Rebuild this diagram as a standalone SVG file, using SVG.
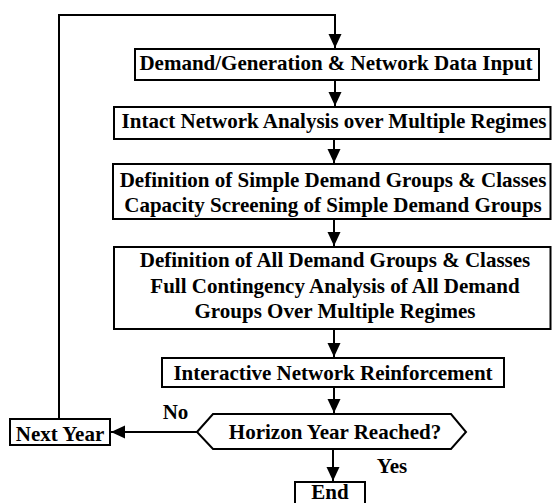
<svg xmlns="http://www.w3.org/2000/svg" width="552" height="503" viewBox="0 0 552 503">
<defs>
<marker id="ah" markerUnits="userSpaceOnUse" markerWidth="14" markerHeight="16" viewBox="0 0 14 16" refX="14" refY="8" orient="auto">
<path d="M0,1.5 L14,8 L0,14.5 Z" fill="#000"/>
</marker>
<style>
.box{fill:#fff;stroke:#000;stroke-width:2}
.t{font-family:"Liberation Serif","Times New Roman",serif;font-weight:bold;font-size:21px;fill:#000;text-anchor:middle}
.c{fill:none;stroke:#000;stroke-width:2}
</style>
</defs>
<rect width="552" height="503" fill="#fff"/>
<g id="connectors">
<path class="c" d="M59,419 V15 H335 V48" marker-end="url(#ah)"/>
<path class="c" d="M335,80 V106" marker-end="url(#ah)"/>
<path class="c" d="M334,139 V163" marker-end="url(#ah)"/>
<path class="c" d="M334,219 V246" marker-end="url(#ah)"/>
<path class="c" d="M334,329 V357" marker-end="url(#ah)"/>
<path class="c" d="M334,387 V413" marker-end="url(#ah)"/>
<path class="c" d="M197,432 H111" marker-end="url(#ah)"/>
<path class="c" d="M333,449 V481" marker-end="url(#ah)"/>
</g>
<g id="input">
<rect class="box" x="135" y="49" width="404" height="31"/>
<text class="t" x="336" y="70">Demand/Generation &amp; Network Data Input</text>
</g>
<g id="intact">
<rect class="box" x="114" y="107" width="436.5" height="32"/>
<text class="t" x="334" y="128">Intact Network Analysis over Multiple Regimes</text>
</g>
<g id="simple">
<rect class="box" x="113" y="164" width="437.5" height="55"/>
<text class="t" x="333" y="187">Definition of Simple Demand Groups &amp; Classes</text>
<text class="t" x="333" y="212">Capacity Screening of Simple Demand Groups</text>
</g>
<g id="all">
<rect class="box" x="114" y="247" width="436.5" height="82"/>
<text class="t" x="335" y="267">Definition of All Demand Groups &amp; Classes</text>
<text class="t" x="335" y="293">Full Contingency Analysis of All Demand</text>
<text class="t" x="335" y="318">Groups Over Multiple Regimes</text>
</g>
<g id="reinforce">
<rect class="box" x="162" y="358" width="342" height="29"/>
<text class="t" x="333" y="380">Interactive Network Reinforcement</text>
</g>
<g id="horizon">
<polygon class="box" points="197,432 213,414 451,414 466,432 451,449 213,449"/>
<text class="t" x="335" y="439">Horizon Year Reached?</text>
</g>
<g id="nextyear">
<rect class="box" x="10" y="419" width="100" height="26"/>
<text class="t" x="60" y="441">Next Year</text>
</g>
<g id="end">
<rect class="box" x="295" y="482" width="70" height="26"/>
<text class="t" x="330" y="499">End</text>
</g>
<g id="labels">
<text class="t" x="175.5" y="419">No</text>
<text class="t" x="392" y="473">Yes</text>
</g>
</svg>
